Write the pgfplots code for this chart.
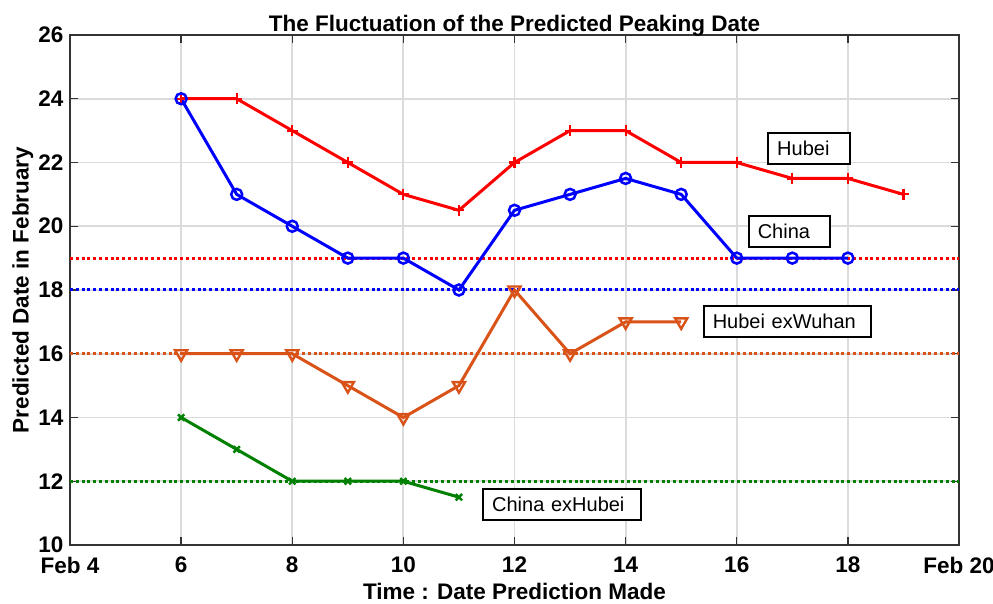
\documentclass[border=0pt]{standalone}
\usepackage{fontspec}
\setmainfont{Liberation Sans}
\usepackage{pgfplots}
\pgfplotsset{compat=1.18}
\definecolor{morange}{rgb}{0.85,0.325,0.098}
\definecolor{mgreen}{rgb}{0,0.5,0}
\begin{document}
\begin{tikzpicture}
\begin{axis}[
  at={(0pt,0pt)}, anchor=south west,
  scale only axis, width=889pt, height=510pt,
  xmin=4, xmax=20, ymin=10, ymax=26,
  xtick={4,6,...,20}, xticklabels={Feb 4,6,8,10,12,14,16,18,Feb 20},
  ytick={10,12,...,26},
  /pgf/number format/assume math mode=true,
  tick label style={font=\fontsize{22.5}{24}\selectfont\bfseries, inner sep=1pt},
  xticklabel style={yshift=-11pt},
  yticklabel style={xshift=-5.5pt},
  grid=major, major grid style={black!14, line width=1.8pt},
  tick align=inside, major tick length=8pt,
  axis line style={line width=1.8pt, black!80},
  every tick/.style={black!80, line width=1.4pt},
  title={The Fluctuation of the Predicted Peaking Date},
  title style={font=\fontsize{22.5}{24}\selectfont\bfseries, at={(axis description cs:0.5,0.996)}, anchor=base},
  xlabel={Time : Date Prediction Made},
  ylabel={Predicted Date in February},
  label style={font=\fontsize{22.5}{24}\selectfont\bfseries},
  xlabel style={at={(axis description cs:0.5,-0.106)}, anchor=base},
  ylabel style={at={(axis description cs:-0.053,0.5)}, anchor=center},
]
% horizontal reference lines
\addplot[red, line width=3pt, dash pattern=on 3pt off 2.8pt] coordinates {(4,19) (20,19)};
\addplot[blue, line width=3pt, dash pattern=on 3pt off 2.8pt] coordinates {(4,18) (20,18)};
\addplot[morange, line width=3pt, dash pattern=on 3pt off 2.8pt] coordinates {(4,16) (20,16)};
\addplot[mgreen, line width=3pt, dash pattern=on 3pt off 2.8pt] coordinates {(4,12) (20,12)};
% Hubei
\addplot[red, line width=3pt, mark=+, mark size=5.5pt, mark options={line width=2.2pt}] coordinates {
(6,24) (7,24) (8,23) (9,22) (10,21) (11,20.5) (12,22) (13,23) (14,23) (15,22) (16,22) (17,21.5) (18,21.5) (19,21)};
% China
\addplot[blue, line width=3pt, mark=o, mark size=5.5pt, mark options={line width=2.5pt}] coordinates {
(6,24) (7,21) (8,20) (9,19) (10,19) (11,18) (12,20.5) (13,21) (14,21.5) (15,21) (16,19) (17,19) (18,19)};
% Hubei exWuhan
\addplot[morange, line width=3pt, mark=triangle, mark size=7pt, mark options={line width=2.4pt, rotate=180}] coordinates {
(6,16) (7,16) (8,16) (9,15) (10,14) (11,15) (12,18) (13,16) (14,17) (15,17)};
% China exHubei
\addplot[mgreen, line width=3pt, mark=x, mark size=4.5pt, mark options={line width=2.4pt}] coordinates {
(6,14) (7,13) (8,12) (9,12) (10,12) (11,11.5)};
\tikzset{lbl/.style={draw=black, fill=white, line width=1.8pt, anchor=west, align=left, inner xsep=9pt, inner ysep=0pt, minimum height=31pt, font=\fontsize{20}{22}\selectfont}}
\node[lbl, text width=64pt] at (axis cs:16.55,22.45) {Hubei};
\node[lbl, text width=63pt] at (axis cs:16.2,19.83) {China};
\node[lbl, text width=149pt] at (axis cs:15.39,17.02) {Hubei exWuhan};
\node[lbl, text width=140pt] at (axis cs:11.42,11.28) {China exHubei};
\end{axis}
\pgfresetboundingbox
\path[use as bounding box] (-70pt,-59pt) rectangle (923pt,545pt);
\end{tikzpicture}
\end{document}
